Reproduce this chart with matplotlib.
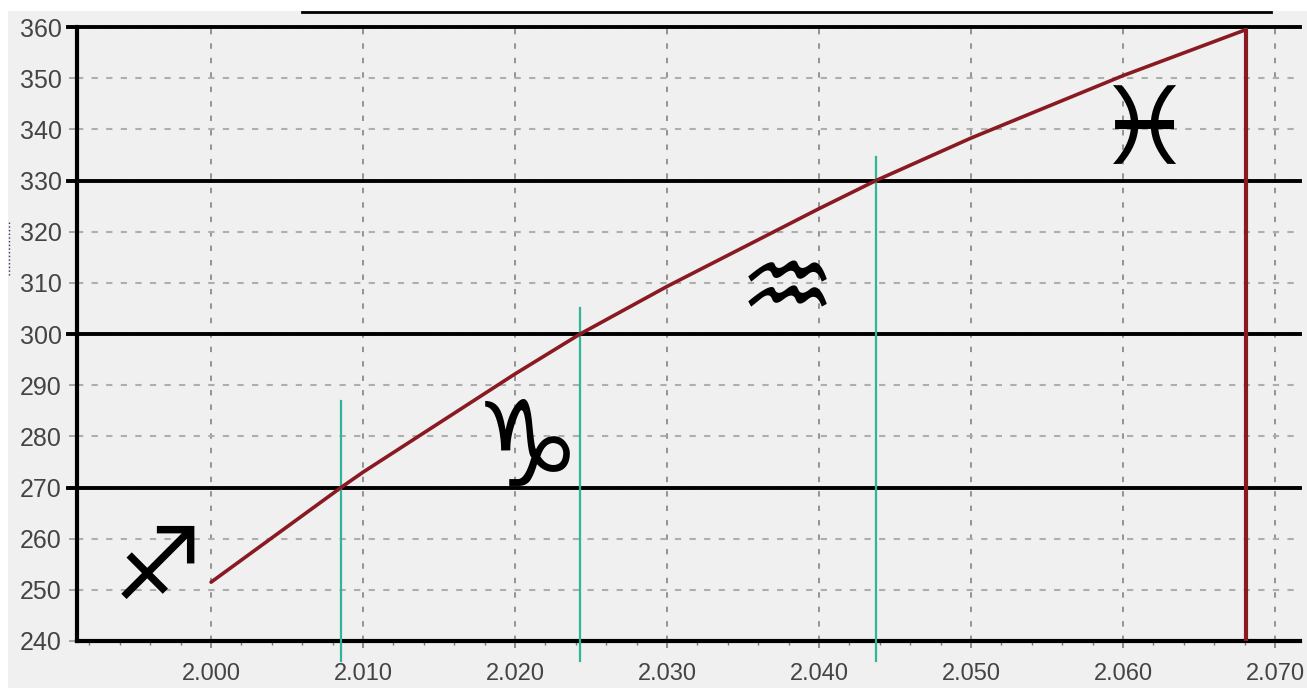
import matplotlib
matplotlib.use('Agg')
from matplotlib import pyplot as plt
from matplotlib.patches import Rectangle
import numpy as np

# curve
year = [2.000, 2.00855, 2.010, 2.020, 2.02428, 2.030, 2.040, 2.04375, 2.050, 2.060, 2.0681]
degree = [251.5, 270, 273, 292.2, 300, 309.3, 324.5, 330, 338.3, 350.5, 359.5]

sign_lines = [270, 300, 330, 360]
line_left = 1.99059
crossing_x = [2.00855, 2.02428, 2.04375]
crossing_top = [287, 305, 334.5]
end_x = 2.0681
top_bar_x = [2.0060, 2.0697]
top_bar_y = 363

signs = ['\u2650', '\u2651', '\u2652', '\u2653']
sign_x = [1.99651, 2.02079, 2.03789, 2.06138]
sign_y = [253.5, 277, 308, 339]
sign_size = [72, 86, 78, 78]

x_ticks = [2.000, 2.010, 2.020, 2.030, 2.040, 2.050, 2.060, 2.070]
y_ticks = list(range(240, 361, 10))

W, H = 1307, 688
fig = plt.figure(figsize=(W / 100, H / 100), dpi=100, facecolor='white')

# grey panel behind the whole plot, white strip left and above
fig.patches.append(Rectangle((8 / W, 0), 1 - 8 / W, 1 - 11 / H, transform=fig.transFigure,
                             facecolor='#f0f0f0', edgecolor='none', zorder=-1))

ax = fig.add_axes([77 / W, 1 - 641 / H, (1300 - 77) / W, (641 - 27) / H], facecolor='#f0f0f0')

ax.set_xlim(1.99118, 2.07164)
ax.set_ylim(240, 360)

ax.grid(True, axis='y', linestyle=(0, (3, 4)), color='#aeaeae', linewidth=1.5)
ax.grid(True, axis='x', linestyle=(0, (3, 5)), color='#8c8c8c', linewidth=1.3)
ax.set_axisbelow(True)

for y in sign_lines:
    ax.plot([line_left, 2.07164], [y, y], color='black', linewidth=2.8, clip_on=False, zorder=3)
ax.plot(top_bar_x, [top_bar_y, top_bar_y], color='black', linewidth=2, clip_on=False)

# green verticals run past the bottom axis
for x, top in zip(crossing_x, crossing_top):
    ax.plot([x, x], [236, top], color='#2fb59a', linewidth=1.6, clip_on=False, zorder=4)

ax.plot(year, degree, color='#8a1a22', linewidth=2.6, zorder=5, solid_capstyle='round')
ax.plot([end_x, end_x], [240, 359.5], color='#8a1a22', linewidth=3, zorder=5)

for s, x, y, size in zip(signs, sign_x, sign_y, sign_size):
    ax.text(x, y, s, fontsize=size, ha='center', va='center', color='black',
            family='DejaVu Sans', fontweight='bold', zorder=6)

# small dark smudge at the left edge of the scan
ax.plot([1.98671, 1.98671], [311.5, 321.9], color='#333377', linewidth=1, linestyle=':', clip_on=False)

ax.spines['top'].set_visible(False)
ax.spines['right'].set_visible(False)
ax.spines['left'].set_linewidth(3)
ax.spines['bottom'].set_linewidth(3)

ax.set_xticks(x_ticks)
ax.set_xticklabels(['%.3f' % v for v in x_ticks])
ax.set_xticks(np.arange(1.992, 2.071, 0.002), minor=True)
ax.set_yticks(y_ticks)
ax.tick_params(axis='x', which='major', labelsize=17, labelcolor='#444444',
               color='#777777', length=5, width=1.2, pad=11)
ax.tick_params(axis='y', which='major', labelsize=18, labelcolor='#444444',
               color='#999999', length=6, width=1.2, pad=5)
ax.tick_params(axis='x', which='minor', color='#777777', length=3, width=1)
for label in ax.get_xticklabels() + ax.get_yticklabels():
    label.set_family('Liberation Sans')

fig.savefig('out.png', dpi=100, facecolor=fig.get_facecolor())
